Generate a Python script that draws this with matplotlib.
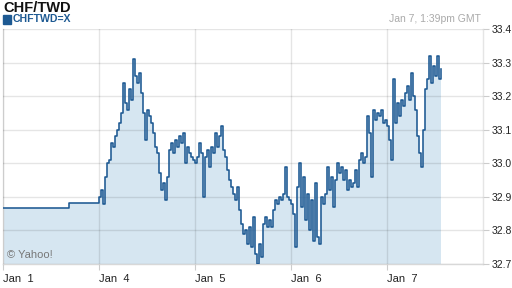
import numpy as np
import matplotlib
matplotlib.use("Agg")
import matplotlib.pyplot as plt

plt.rcParams['font.family'] = ['Liberation Sans', 'DejaVu Sans']

title = "CHF/TWD"
series_name = "CHFTWD=X"
timestamp = "Jan 7, 1:39pm GMT"
tick_labels = ["Jan  1", "Jan  4", "Jan  5", "Jan  6", "Jan  7"]
tick_pos = [0, 1, 2, 3, 4]          # trading-day index (weekend collapsed)
y_ticks = [32.7, 32.8, 32.9, 33.0, 33.1, 33.2, 33.3, 33.4]

# Jan 1 (holiday, flat quotes): day offsets and values
flat_t = [0.0, 0.69]
flat_v = [32.868, 32.882]

# Jan 4 00:00 -> Jan 7 13:30, half-hourly quotes
intraday_v = [
    32.90, 32.92, 32.88, 32.96, 33.00, 33.01, 33.06, 33.05, 33.08, 33.10,
    33.12, 33.15, 33.24, 33.18, 33.16, 33.22, 33.19, 33.31, 33.26, 33.24,
    33.27, 33.21, 33.15, 33.07, 33.16, 33.14, 33.12, 33.09, 33.05, 33.03,
    32.97, 32.92, 32.94, 32.89, 32.96, 33.04, 33.06, 33.03, 33.07, 33.05,
    33.08, 33.06, 33.09, 33.00, 33.05, 33.03, 33.02, 33.01, 33.00, 33.02,
    33.06, 33.03, 32.90, 33.02, 33.04, 32.99, 33.05, 33.03, 33.09, 33.05,
    33.08, 33.11, 33.04, 33.02, 32.98, 32.95, 32.93, 32.91, 32.89, 32.93,
    32.86, 32.82, 32.79, 32.80, 32.76, 32.81, 32.75, 32.84, 32.73, 32.70,
    32.76, 32.72, 32.82, 32.84, 32.81, 32.83, 32.81, 32.86, 32.89, 32.88,
    32.90, 32.89, 32.91, 32.99, 32.90, 32.89, 32.88, 32.85, 32.75, 32.93,
    33.00, 32.87, 32.96, 32.83, 32.91, 32.80, 32.89, 32.77, 32.94, 32.78,
    32.76, 32.90, 32.88, 32.91, 32.99, 32.92, 32.96, 32.87, 32.95, 33.00,
    32.97, 32.99, 32.95, 32.98, 32.92, 32.95, 32.93, 32.94, 32.98, 32.93,
    33.01, 33.03, 33.00, 33.02, 33.14, 33.09, 32.96, 33.16, 33.13, 33.15,
    33.14, 33.16, 33.12, 33.13, 33.11, 33.07, 33.01, 33.25, 33.12, 33.18,
    33.14, 33.19, 33.17, 33.21, 33.23, 33.19, 33.27, 33.20, 33.16, 33.08,
    33.03, 32.99, 33.10, 33.22, 33.25, 33.32, 33.24, 33.29, 33.26, 33.32,
    33.25, 33.28,
]

intraday_t = 1.0 + np.arange(len(intraday_v)) / 48.0
t = np.concatenate([flat_t, intraday_t])
v = np.concatenate([flat_v, intraday_v])

W, H = 512, 288
fig = plt.figure(figsize=(W / 100, H / 100), dpi=100)
ax = fig.add_axes([3 / W, (H - 264) / H, (483 - 3) / W, (264 - 29) / H])

line_c = "#1d5992"
fill_c = "#d6e6f1"

ax.fill_between(t, v, 32.7, step="post", color=fill_c, lw=0, zorder=1)
ax.plot(t, v, drawstyle="steps-post", color=line_c, lw=1.15, zorder=3)

ax.set_xlim(0, 5)
ax.set_ylim(32.7, 33.4)
ax.set_xticks(tick_pos)
ax.set_xticklabels(tick_labels, ha="left", fontsize=8, color="#222222")
ax.set_yticks(y_ticks)
ax.set_yticklabels([f"{y:.1f}" for y in y_ticks], fontsize=7.5, color="#222222")
ax.yaxis.tick_right()
ax.tick_params(axis="y", length=4, width=0.8, color="#cccccc", pad=2)
ax.tick_params(axis="x", length=4, width=0.8, color="#cccccc", pad=3)

ax.grid(True, color="black", alpha=0.1, lw=1.0, zorder=2)
ax.set_axisbelow(False)
ax.spines["top"].set_visible(False)
ax.spines["left"].set_color("#e5e5e5")
ax.spines["right"].set_color("#e5e5e5")
ax.spines["bottom"].set_color("#d8d8d8")
for s in ax.spines.values():
    s.set_linewidth(1.0)

ax.text(0.04, 32.728, "© Yahoo!", fontsize=8, color="#777777", va="center", ha="left", zorder=4)

fig.text(3 / W, 1 - 8 / H, title, fontsize=10.5, fontweight="bold", color="#111111", va="center", ha="left")
fig.patches.append(matplotlib.patches.Rectangle((3 / W, 1 - 24 / H), 8 / W, 9 / H, transform=fig.transFigure,
                                                 color=line_c, figure=fig))
fig.text(13 / W, 1 - 19.5 / H, series_name, fontsize=7.6, fontweight="bold", color=line_c, va="center", ha="left")
fig.text(481 / W, 1 - 19 / H, timestamp, fontsize=7.5, color="#aaaaaa", va="center", ha="right")

fig.savefig("out.png", dpi=100)
